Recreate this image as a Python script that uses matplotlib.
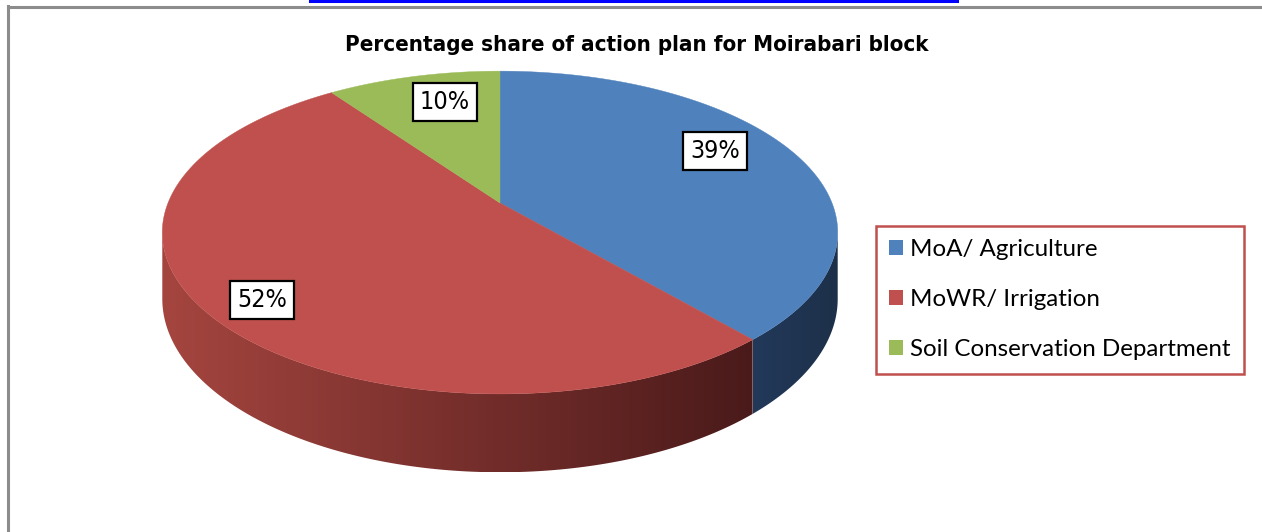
import numpy as np
import matplotlib
matplotlib.use('Agg')
import matplotlib.pyplot as plt
from matplotlib.patches import Polygon, Patch
from matplotlib.lines import Line2D

# data
categories = ['MoA/ Agriculture', 'MoWR/ Irrigation', 'Soil Conservation Department']
values = [39, 52, 10]
top_colors = ['#4F81BD', '#C0504D', '#9BBB59']
title = 'Percentage share of action plan for Moirabari block'

# side shading (left colour, right colour) per slice
side_colors = [('#22395A', '#1D3049'), ('#A5453F', '#4A1A1A'), ('#7F9A45', '#5E7533')]

# layout of the 3d pie, in pixels
CX, CY = 500.0, 203.0
RX, RY = 332.0, 156.0
K = 0.183        # perspective
H = 64.0         # thickness
label_pos = [(715, 151), (262, 300), (445, 102)]

W, Hh = 1262, 532
fig = plt.figure(figsize=(W / 100.0, Hh / 100.0), dpi=100)
ax = fig.add_axes([0, 0, 1, 1])
ax.set_xlim(0, W)
ax.set_ylim(Hh, 0)
ax.axis('off')

narrow = ['Liberation Sans Narrow', 'DejaVu Sans']


def proj(t, f=1.0, drop=0.0):
    t = np.radians(t)
    s = 1.0 / (1.0 + K * f * np.sin(t))
    x = CX + RX * f * np.cos(t) * s
    y = CY - RY * f * np.sin(t) * s + drop * s
    return x, y


# slice angles, clockwise from 12 o'clock
total = float(sum(values))
edges = 90.0 - np.concatenate([[0], np.cumsum(values)]) * 360.0 / total

# visible side of the drum
tlo = -180.0 + np.degrees(np.arcsin(K))
thi = -np.degrees(np.arcsin(K))

for i in range(len(values)):
    a, b = edges[i + 1], edges[i]
    for shift in (0.0, 360.0, -360.0):
        lo, hi = max(a + shift, tlo), min(b + shift, thi)
        if hi <= lo:
            continue
        tt = np.linspace(lo, hi, 200)
        xt, yt = proj(tt)
        xb, yb = proj(tt, drop=H)
        poly = np.column_stack([np.concatenate([xt, xb[::-1]]), np.concatenate([yt, yb[::-1]])])
        patch = Polygon(poly, closed=True, facecolor='none', edgecolor='none')
        ax.add_patch(patch)
        x0, x1 = poly[:, 0].min(), poly[:, 0].max()
        y0, y1 = poly[:, 1].min(), poly[:, 1].max()
        c0 = np.array(matplotlib.colors.to_rgb(side_colors[i][0]))
        c1 = np.array(matplotlib.colors.to_rgb(side_colors[i][1]))
        fr = np.linspace(0, 1, 256)[:, None]
        grad = (c0 * (1 - fr) + c1 * fr)[None, :, :]
        im = ax.imshow(grad, extent=[x0, x1, y1, y0], aspect='auto', interpolation='bilinear', zorder=2)
        im.set_clip_path(patch)

# top faces
for i in range(len(values)):
    tt = np.linspace(edges[i], edges[i + 1], 300)
    xs, ys = proj(tt)
    poly = np.column_stack([np.concatenate([[CX], xs]), np.concatenate([[CY], ys])])
    ax.add_patch(Polygon(poly, closed=True, facecolor=top_colors[i], edgecolor=top_colors[i], lw=0.3, zorder=3))

# data labels
for i, v in enumerate(values):
    ax.text(label_pos[i][0], label_pos[i][1], '%d%%' % v, ha='center', va='center', fontsize=18,
            family=narrow, fontstretch='condensed', zorder=5,
            bbox=dict(boxstyle='square,pad=0.28', facecolor='white', edgecolor='black', lw=1.6))

ax.text(637, 45, title, ha='center', va='center', fontsize=16, fontweight='bold', family=narrow,
        fontstretch='condensed')

handles = [Patch(facecolor=c, edgecolor='none') for c in top_colors]
leg = ax.legend(handles, categories, loc='upper left', bbox_to_anchor=(876.0 / W, 1 - 226.0 / Hh),
                borderaxespad=0.0,
                prop={'family': ['Lato', 'DejaVu Sans'], 'size': 17.4}, handlelength=0.55, handleheight=0.55,
                handletextpad=0.3, labelspacing=1.2, borderpad=0.55, fancybox=False, framealpha=1)
leg.get_frame().set_edgecolor('#C0504D')
leg.get_frame().set_linewidth(1.8)

# page furniture
ax.add_line(Line2D([310, 957], [1, 1], color='#0000FF', lw=2.2))
ax.add_line(Line2D([8, W], [7, 7], color='#8C8C8C', lw=2.2))
ax.add_line(Line2D([8, 8], [6, Hh], color='#8C8C8C', lw=2.2))

fig.savefig('out.png', dpi=100, facecolor='white')
